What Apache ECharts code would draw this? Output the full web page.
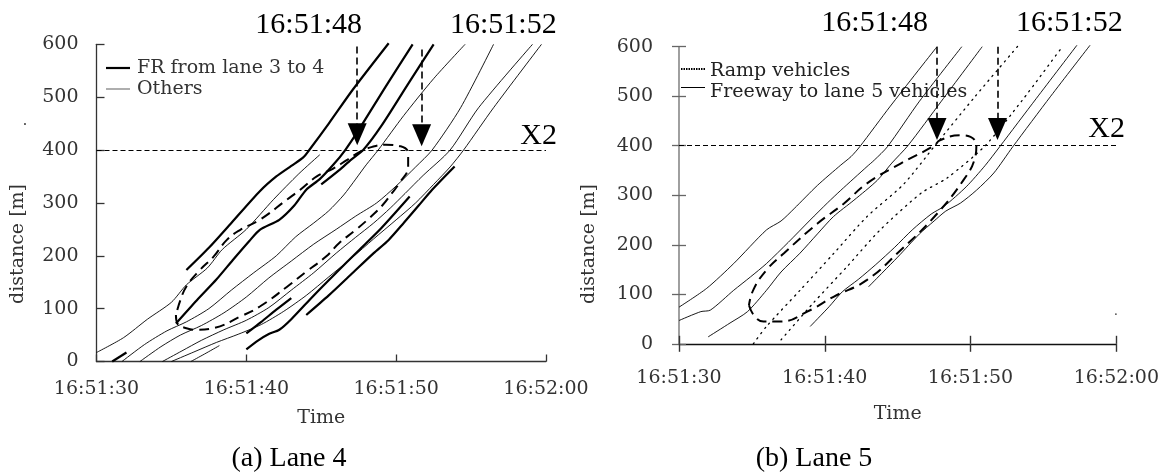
<!DOCTYPE html>
<html><head><meta charset="utf-8">
<script src="https://cdn.jsdelivr.net/npm/echarts@6/dist/echarts.min.js"></script>
<style>html,body{margin:0;padding:0;background:#fff}#c{width:1171px;height:476px}</style>
</head><body><div id="c"></div>
<script>
// time axis: seconds after 16:51:30 ; distance in metres
const xTickLabels = ['16:51:30', '16:51:40', '16:51:50', '16:52:00'];

// ---------- (a) Lane 4 ----------
// FR from lane 3 to 4 (thick)
const l4FR1 = [[1.05,0],[2.0,17]];
const l4FR2 = [[6.0,173],[7.5,215],[9.0,262],[10.9,322],[12.0,350],[13.0,370],[13.8,386],[14.2,400],[15.5,450],[17.1,514],[19.5,602]];
const l4FR3 = [[5.3,72],[6.7,116],[8.0,155],[9.1,192],[10.2,228],[10.9,249],[12.2,268],[13.2,295],[14.0,325],[14.9,345],[15.8,372],[16.6,400],[17.5,438],[19.3,520],[21.1,600]];
const l4FR4 = [[15.0,335],[16.2,362],[17.0,382],[17.8,400],[19.0,445],[20.8,525],[22.5,600]];
const l4FR5 = [[10.0,53],[11.0,75],[12.0,98],[13.0,120]];
const l4FR6 = [[10.0,23],[10.8,40],[11.5,52],[12.2,60],[13.0,80],[14.5,125],[16.0,168],[17.5,210],[19.0,252],[20.9,312]];
const l4FR7 = [[14.0,88],[15.5,125],[17.0,165],[18.5,205],[19.5,230],[20.5,262],[21.5,295],[22.4,325],[23.9,369]];
// Others (thin)
const l4Oth1 = [[0,17],[1.8,45],[3.4,80],[5.0,112],[6.0,145],[7.4,177],[8.4,212],[10.0,250],[11.8,306],[13.5,355],[14.9,391]];
const l4Oth2 = [[1.7,0],[3.2,32],[4.7,58],[6.0,75],[7.5,100],[9.0,135],[10.5,168],[12.0,200],[13.3,236],[14.5,262],[15.5,285],[16.5,315],[17.3,345],[18.0,372],[18.8,400],[20.5,465],[22.5,535],[24.6,600]];
const l4Oth3 = [[2.9,0],[4.3,28],[5.6,50],[7.0,68],[8.5,92],[10.0,122],[11.5,158],[13.0,190],[14.5,222],[16.0,250],[17.3,275],[18.7,300],[20.0,332],[21.3,368],[22.4,400],[24.3,480],[26.5,600]];
const l4Oth4 = [[4.4,0],[5.7,20],[7.0,40],[8.5,60],[10.0,78],[11.5,102],[13.0,135],[14.5,168],[16.0,205],[17.3,235],[18.5,262],[19.6,290],[20.6,318],[21.8,352],[23.6,400],[25.5,480],[29.1,600]];
const l4Oth5 = [[5.0,0],[6.5,18],[8.0,36],[9.5,52],[11.0,70],[12.5,95],[14.0,125],[15.5,160],[17.0,195],[18.5,232],[20.0,268],[21.3,300],[22.5,335],[23.6,368],[24.5,400],[26.5,480],[29.7,600]];
const l4Oth6 = [[6.3,0],[7.2,14],[8.2,30]];
// dashed ellipse (outline)
const l4Ellipse = [[5.3,88],[5.4,72],[6.0,63],[6.7,60],[7.8,63],[9.6,85],[10.9,104],[12.7,141],[14.0,170],[15.3,198],[16.2,224],[17.3,249],[18.2,271],[19.1,296],[19.7,318],[20.2,337],[20.8,369],[20.8,394],[20.3,407],[19.3,410],[18.4,406],[17.6,397],[16.7,381],[15.8,365],[14.7,350],[13.6,325],[12.7,306],[10.9,268],[9.6,249],[8.7,230],[7.8,198],[6.9,173],[6.0,142],[5.6,116],[5.3,88]];
const l4ArrowTimes = [17.4, 21.7];
const l4ArrowTop = [596, 590];
const l4ArrowEnd = [430, 428];
const l4X2 = 400;

// ---------- (b) Lane 5 ----------
// Ramp vehicles (dotted)
const l5Ramp1 = [[5.1,0],[6.0,35],[8.3,108],[10.6,182],[12.9,257],[15.4,322],[17.5,398],[20.3,499],[23.3,603]];
const l5Ramp2 = [[7.0,8],[9.2,82],[11.5,155],[13.8,230],[16.6,304],[18.4,335],[21.0,400],[23.5,490],[26.3,600]];
// Freeway to lane 5 vehicles (thin)
const l5Fwy1 = [[0,74],[1.9,112],[3.75,162],[6.0,230],[7.0,248],[7.9,273],[9.5,320],[11.1,361],[11.8,378],[12.4,398],[14.5,480],[17.7,600]];
const l5Fwy2 = [[0,47],[1.5,65],[2.15,68],[3.75,108],[4.9,135],[6.0,162],[7.5,205],[9.0,250],[10.2,285],[11.1,310],[12.9,358],[13.4,371],[14.3,398],[16.5,490],[19.4,600]];
const l5Fwy3 = [[2.0,14],[3.5,42],[4.7,65],[6.0,108],[7.0,145],[8.3,183],[9.5,222],[10.6,257],[12.0,290],[13.6,330],[14.6,365],[15.7,400],[18.0,490],[20.8,600]];
const l5Fwy4 = [[9.0,35],[10.3,75],[11.2,105],[12.3,130],[13.5,160],[14.8,195],[16.0,230],[17.3,262],[18.2,278],[19.7,317],[21.0,360],[22.0,398],[24.5,495],[27.3,603]];
const l5Fwy5 = [[13.0,115],[14.0,145],[15.0,175],[16.5,222],[17.5,248],[18.3,268],[19.3,284],[20.4,310],[21.6,345],[22.9,398],[25.5,500],[28.2,603]];
const l5Ellipse = [[4.8,78],[5.2,55],[5.8,45],[7.0,45],[8.8,65],[10.6,95],[12.9,129],[15.2,189],[17.5,256],[19.5,330],[20.3,375],[20.4,400],[20.0,418],[19.3,421],[17.9,411],[17.5,400],[15.2,364],[12.9,324],[11.3,283],[9.5,243],[7.2,183],[6.0,149],[5.1,109],[4.8,78]];
const l5ArrowTimes = [17.7, 21.85];
const l5ArrowTop = [600, 600];
const l5ArrowEnd = [434, 434];
const l5X2 = 400;

// ---------- styles ----------
const SERIF = 'DejaVu Serif';
const TIMES = 'Liberation Serif';
const thick = {color:'#000', width:2.2};
const thin = {color:'#000', width:0.9};
const dotted = {color:'#000', width:1.3, type:[1.3,5], cap:'round'};
const ellStyle = {color:'#000', width:2, type:[10,6]};

function traj(data, grid, style, smooth) {
  return {type:'line', xAxisIndex: grid === 0 ? 0 : 1, yAxisIndex: grid === 0 ? 0 : 1,
    data: data, symbol:'none', showSymbol:false, smooth: smooth == null ? 0.25 : smooth,
    lineStyle: style, silent:true, animation:false, clip:false, z:3};
}
function arrowLines(times, tops, ends) {
  return times.map((t, i) => [{coord:[t, tops[i]]}, {coord:[t, ends[i]]}]);
}

const series = [];
[l4FR1,l4FR2,l4FR3,l4FR4,l4FR5,l4FR6,l4FR7].forEach(d => series.push(traj(d,0,thick)));
[l4Oth1,l4Oth2,l4Oth3,l4Oth4,l4Oth5,l4Oth6].forEach(d => series.push(traj(d,0,thin)));
[l5Ramp1,l5Ramp2].forEach(d => series.push(traj(d,1,dotted)));
[l5Fwy1,l5Fwy2,l5Fwy3,l5Fwy4,l5Fwy5].forEach(d => series.push(traj(d,1,thin)));

function ellipseSeries(data, grid, times, tops, ends, x2) {
  const s = traj(data, grid, ellStyle, 0.45);
  s.z = 4;
  s.markLine = {silent:true, animation:false, symbol:['none','triangle'], symbolSize:[19,22],
    label:{show:false}, lineStyle:{color:'#000', width:1.6, type:[7,4]},
    data: arrowLines(times, tops, ends)};
  return s;
}
series.push(ellipseSeries(l4Ellipse, 0, l4ArrowTimes, l4ArrowTop, l4ArrowEnd));
series.push(ellipseSeries(l5Ellipse, 1, l5ArrowTimes, l5ArrowTop, l5ArrowEnd));
// X2 reference line
function refLine(grid, y) {
  return {type:'line', xAxisIndex: grid === 0 ? 0 : 1, yAxisIndex: grid === 0 ? 0 : 1, data:[], silent:true,
    markLine:{silent:true, animation:false, symbol:['none','none'], label:{show:false},
      lineStyle:{color:'#000', width:1.2, type:[5,3]}, data:[{yAxis:y}]}};
}
series.push(refLine(0, l4X2));
series.push(refLine(1, l5X2));

const tickFont = {fontFamily:SERIF, fontSize:19, color:'#333'};
const fmtX = v => xTickLabels[Math.round(v / 10)];

const option = {
  backgroundColor:'#fff',
  animation:false,
  grid:[
    {left:96.5, top:44.3, width:449.5, height:317.2},
    {left:679, top:46.7, width:437.3, height:297.1}
  ],
  xAxis:[
    {gridIndex:0, type:'value', min:0, max:30, interval:10, position:'bottom',
     axisLine:{lineStyle:{color:'#333', width:1.3}},
     axisTick:{inside:true, length:7, lineStyle:{color:'#333', width:1.3}},
     axisLabel:Object.assign({margin:18, formatter:fmtX}, tickFont),
     splitLine:{show:false},
     name:'Time', nameLocation:'middle', nameGap:47, nameTextStyle:tickFont},
    {gridIndex:1, type:'value', min:0, max:30, interval:10, position:'bottom',
     axisLine:{lineStyle:{color:'#111', width:1.4}},
     axisTick:{inside:false, length:8, lineStyle:{color:'#333', width:1.4}},
     axisLabel:Object.assign({margin:25, formatter:fmtX}, tickFont),
     splitLine:{show:false},
     name:'Time', nameLocation:'middle', nameGap:61, nameTextStyle:tickFont},
    {gridIndex:1, type:'value', min:0, max:30, interval:10, position:'bottom',
     axisLine:{show:false}, axisLabel:{show:false}, splitLine:{show:false},
     axisTick:{inside:true, length:8, lineStyle:{color:'#333', width:1.4}}}
  ],
  yAxis:[
    {gridIndex:0, type:'value', min:0, max:600, interval:100,
     axisLine:{show:true, lineStyle:{color:'#333', width:1.3}},
     axisTick:{show:true, inside:true, length:8, lineStyle:{color:'#333', width:1.3}},
     axisLabel:Object.assign({margin:18}, tickFont), splitLine:{show:false}},
    {gridIndex:1, type:'value', min:0, max:600, interval:100,
     axisLine:{show:true, lineStyle:{color:'#888', width:1.6}},
     axisTick:{show:true, inside:false, length:7, lineStyle:{color:'#666', width:1.3}},
     axisLabel:Object.assign({margin:26}, tickFont), splitLine:{show:false}},
    {gridIndex:1, type:'value', min:0, max:600, interval:100, position:'left',
     axisLine:{show:false}, axisLabel:{show:false}, splitLine:{show:false},
     axisTick:{show:true, inside:true, length:7, lineStyle:{color:'#666', width:1.3}}}
  ],
  graphic:[
    // big time labels
    {type:'text', x:362, y:25, style:{text:'16:51:48', font:'30px "Liberation Serif"', fill:'#000', align:'right', verticalAlign:'middle', textAlign:'right', textVerticalAlign:'middle'}},
    {type:'text', x:450, y:25, style:{text:'16:51:52', font:'30px "Liberation Serif"', fill:'#000', align:'left', verticalAlign:'middle', textAlign:'left', textVerticalAlign:'middle'}},
    {type:'text', x:928, y:23, style:{text:'16:51:48', font:'30px "Liberation Serif"', fill:'#000', align:'right', verticalAlign:'middle', textAlign:'right', textVerticalAlign:'middle'}},
    {type:'text', x:1016, y:23, style:{text:'16:51:52', font:'30px "Liberation Serif"', fill:'#000', align:'left', verticalAlign:'middle', textAlign:'left', textVerticalAlign:'middle'}},
    // X2
    {type:'text', x:557, y:136, style:{text:'X2', font:'30px "Liberation Serif"', fill:'#000', align:'right', verticalAlign:'middle', textAlign:'right', textVerticalAlign:'middle'}},
    {type:'text', x:1125, y:129, style:{text:'X2', font:'30px "Liberation Serif"', fill:'#000', align:'right', verticalAlign:'middle', textAlign:'right', textVerticalAlign:'middle'}},
    // captions
    {type:'text', x:289, y:459, style:{text:'(a) Lane 4', font:'28px "Liberation Serif"', fill:'#000', align:'center', verticalAlign:'middle', textAlign:'center', textVerticalAlign:'middle'}},
    {type:'text', x:814, y:459, style:{text:'(b) Lane 5', font:'28px "Liberation Serif"', fill:'#000', align:'center', verticalAlign:'middle', textAlign:'center', textVerticalAlign:'middle'}},
    // y axis names
    {type:'text', x:18, y:244, rotation:Math.PI/2, style:{text:'distance [m]', font:'19px "DejaVu Serif"', fill:'#333', align:'center', verticalAlign:'middle', textAlign:'center', textVerticalAlign:'middle'}},
    {type:'text', x:589, y:244, rotation:Math.PI/2, style:{text:'distance [m]', font:'19px "DejaVu Serif"', fill:'#333', align:'center', verticalAlign:'middle', textAlign:'center', textVerticalAlign:'middle'}},
    // stray dots
    {type:'text', x:25, y:121, style:{text:'.', font:'14px "DejaVu Serif"', fill:'#333', align:'center', verticalAlign:'middle', textAlign:'center', textVerticalAlign:'middle'}},
    {type:'text', x:1116, y:312, style:{text:'.', font:'12px "DejaVu Serif"', fill:'#333', align:'center', verticalAlign:'middle', textAlign:'center', textVerticalAlign:'middle'}},
    // legend (a)
    {type:'line', shape:{x1:106, y1:68, x2:130, y2:68}, style:{stroke:'#000', lineWidth:2.2}},
    {type:'text', x:137, y:68, style:{text:'FR from lane 3 to 4', font:'19px "DejaVu Serif"', fill:'#333', align:'left', verticalAlign:'middle', textAlign:'left', textVerticalAlign:'middle'}},
    {type:'line', shape:{x1:106, y1:89, x2:130, y2:89}, style:{stroke:'#777', lineWidth:1.2}},
    {type:'text', x:137, y:89, style:{text:'Others', font:'19px "DejaVu Serif"', fill:'#333', align:'left', verticalAlign:'middle', textAlign:'left', textVerticalAlign:'middle'}},
    // legend (b)
    {type:'line', shape:{x1:681, y1:69, x2:705, y2:69}, style:{stroke:'#000', lineWidth:2, lineDash:[1.5,1]}},
    {type:'text', x:710, y:71, style:{text:'Ramp vehicles', font:'19px "DejaVu Serif"', fill:'#222', align:'left', verticalAlign:'middle', textAlign:'left', textVerticalAlign:'middle'}},
    {type:'line', shape:{x1:681, y1:87.5, x2:705, y2:87.5}, style:{stroke:'#000', lineWidth:1}},
    {type:'text', x:710, y:92, style:{text:'Freeway to lane 5 vehicles', font:'19px "DejaVu Serif"', fill:'#222', align:'left', verticalAlign:'middle', textAlign:'left', textVerticalAlign:'middle'}}
  ],
  series: series
};
const chart = echarts.init(document.getElementById('c'), null, {renderer:'canvas'});
chart.setOption(option);
</script>
</body></html>
